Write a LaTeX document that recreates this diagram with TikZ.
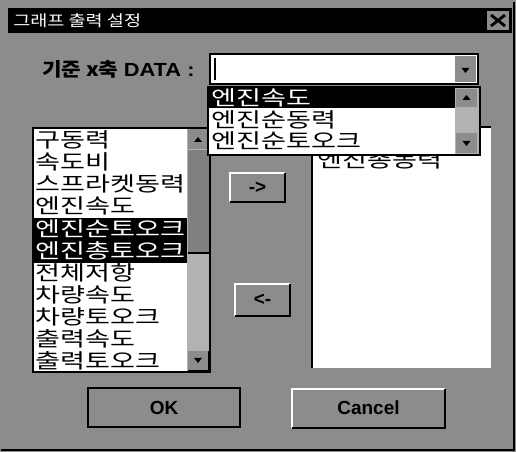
\documentclass[tikz,border=0pt]{standalone}
\usepackage{fontspec}
\setmainfont{Liberation Sans}
\newfontfamily\kr{Noto Sans CJK KR}
\usetikzlibrary{positioning}
\newcommand\wide[1]{\scalebox{1.33}[1]{#1}}

\tikzset{
	dlg/.style={fill=black!45},
	listbox/.style={fill=white, draw=black, line width=0.8pt},
	selrow/.style={fill=black},
	item/.style={anchor=west, inner sep=0pt, font=\kr\fontsize{14.5}{14.5}\selectfont},
	selitem/.style={item, text=white},
	raised/.style={fill=black!45},
	btnlabel/.style={inner sep=0pt, font=\bfseries\fontsize{13.5}{13.5}\selectfont},
	uptri/.pic={\fill (-4,2) -- (4,2) -- (0,-3) -- cycle;},
	downtri/.pic={\fill (-4,-2) -- (4,-2) -- (0,3) -- cycle;}
}

\begin{document}
\begin{tikzpicture}[x=0.025cm, y=-0.025cm]
	\useasboundingbox (0,0) rectangle (516,452);
	\fill[dlg] (0,0) rectangle (516,452);
	\draw[line width=1pt] (1,450) -- (514,450) -- (514,2);
	
	% title bar
	\fill (8,8) rectangle (512,33);
	\node[anchor=west, inner sep=0pt, text=white, font=\kr\fontsize{11}{11}\selectfont] (title) at (13,20.5) {\scalebox{1.2}[1]{그래프 출력 설정}};
	\fill[dlg] (487,11) rectangle (509,30);
	\draw[line width=2pt] (491,15) -- (505,26) (505,15) -- (491,26);
	
	% x axis data combo
	\node[anchor=west, inner sep=0pt, font=\bfseries\fontsize{13.5}{13.5}\selectfont] (xlab) at (42,69) {\scalebox{1.12}[1]{\kr\bfseries 기준 x축} \scalebox{1.15}[1]{DATA :}};
	\draw[listbox] (210,54) rectangle (478,84);
	\draw[line width=1.2pt] (215,58) -- (215,80);
	\fill[raised] (455,56) rectangle (476,82);
	\pic at (465.5,70) {downtri};
	
	% left list
	\draw[listbox] (33,128) rectangle (210,372);
	\fill[selrow] (34,218) rectangle (187,263);
	\foreach \name [count=\i from 0] in {구동력,속도비,스프라켓동력,엔진속도,엔진순토오크,엔진총토오크,전체저항,차량속도,차량토오크,출력속도,출력토오크}{
		\ifnum\i=4 \node[selitem] (left\i) at (35,{140+22.1*\i}) {\wide{\name}};
		\else\ifnum\i=5 \node[selitem] (left\i) at (35,{140+22.1*\i}) {\wide{\name}};
		\else \node[item] (left\i) at (35,{140+22.1*\i}) {\wide{\name}};
		\fi\fi
	}
	\fill[black!30] (187,129) rectangle (209.5,371.5);
	\fill[raised] (188,129) rectangle (208,149);
	\pic at (198,140) {uptri};
	\fill[black!50] (188,150) rectangle (209,253);
	\draw[line width=1pt] (188,253) -- (210,253) -- (210,150);
	\fill[raised] (188,351) rectangle (208,371);
	\draw[line width=1pt] (188,371) -- (209,371) -- (209,351);
	\pic at (198,360) {downtri};
	
	% move buttons
	\fill[raised] (230,173) rectangle (285,202);
	\draw[white, line width=1pt] (230,202) -- (230,173) -- (285,173);
	\draw[line width=1.2pt] (230,202) -- (285,202) -- (285,173);
	\node[btnlabel] (toright) at (257.5,187.5) {->};
	\fill[raised] (235,284) rectangle (290,316);
	\draw[white, line width=1pt] (235,316) -- (235,284) -- (290,284);
	\draw[line width=1.2pt] (235,316) -- (290,316) -- (290,284);
	\node[btnlabel] (toleft) at (262.5,300) {<-};
	
	% right list
	\fill[white] (312,127) rectangle (491,368);
	\draw[line width=1pt] (312,368) -- (312,127) -- (491,127);
	\node[item] (right0) at (317,160) {\wide{엔진총동력}};
	
	% dropped list of the combo
	\draw[listbox] (208,87) rectangle (480,155);
	\fill[selrow] (209,88) rectangle (455,108);
	\node[selitem] (drop0) at (211,98) {\wide{엔진속도}};
	\node[item] (drop1) at (211,119.5) {\wide{엔진순동력}};
	\node[item] (drop2) at (211,141) {\wide{엔진순토오크}};
	\fill[black!30] (455,88) rectangle (479,154);
	\fill[raised] (456,89) rectangle (477,107);
	\pic at (466.5,98) {uptri};
	\fill[raised] (456,133) rectangle (477,153);
	\pic at (466.5,143) {downtri};
	
	% OK / Cancel
	\draw[line width=1.5pt, fill=black!45] (88,388) rectangle (240,427);
	\node[btnlabel] (ok) at (164,407.5) {OK};
	\draw[white, line width=1pt] (292,428) -- (292,389) -- (445,389);
	\draw[line width=1.5pt] (292,428) -- (445,428) -- (445,389);
	\node[btnlabel] (cancel) at (368.5,408) {Cancel};
\end{tikzpicture}
\end{document}
